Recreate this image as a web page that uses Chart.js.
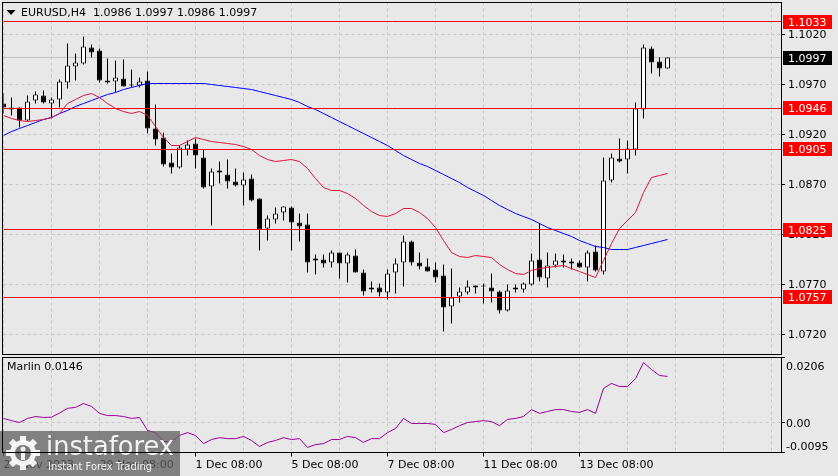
<!DOCTYPE html>
<html>
<head>
<meta charset="utf-8">
<script src="https://cdn.jsdelivr.net/npm/chart.js@4.4.1/dist/chart.umd.min.js"></script>
<style>
  html, body { margin: 0; padding: 0; background: #e8e8e8; }
  #wrap { position: relative; width: 838px; height: 476px; overflow: hidden; }
  #priceChart { position: absolute; left: 0; top: 0; }
  #marlinChart { position: absolute; left: 0; top: 356px; }
</style>
</head>
<body>
<div id="wrap">
  <canvas id="priceChart" width="838" height="356"></canvas>
  <canvas id="marlinChart" width="838" height="120"></canvas>
</div>
<script>
// EURUSD H4, one entry per candle (oldest first)
const symbol = 'EURUSD,H4';
const opens = [
  1.0951, 1.0947, 1.0947, 1.0934, 1.0954, 1.0959, 1.0951, 1.0955, 1.0972, 1.0988,
  1.0991, 1.1007, 1.1004, 1.0974, 1.0973, 1.0976, 1.0969, 1.0969, 1.0974, 1.0926,
  1.0917, 1.0892, 1.0887, 1.0905, 1.0911, 1.0897, 1.0868, 1.0882, 1.0880, 1.0873,
  1.0869, 1.0876, 1.0856, 1.0826, 1.0835, 1.0842, 1.0847, 1.0832, 1.0830, 1.0794,
  1.0795, 1.0792, 1.0802, 1.0791, 1.0799, 1.0782, 1.0765, 1.0767, 1.0762, 1.0782,
  1.0792, 1.0813, 1.0792, 1.0788, 1.0785, 1.0779, 1.0748, 1.0758, 1.0762, 1.0767,
  1.0768, 1.0767, 1.0763, 1.0744, 1.0765, 1.0765, 1.0770, 1.0795, 1.0776, 1.0789,
  1.0794, 1.0793, 1.0792, 1.0787, 1.0803, 1.0783, 1.0874, 1.0896, 1.0895, 1.0905,
  1.0945, 1.1006, 1.0993, 1.0986
];
const highs = [
  1.0961, 1.0957, 1.0947, 1.0959, 1.0963, 1.0964, 1.0957, 1.0975, 1.1011, 1.1001,
  1.1018, 1.1010, 1.1006, 1.0996, 1.0994, 1.0995, 1.0985, 1.0977, 1.0983, 1.0950,
  1.0922, 1.0901, 1.0909, 1.0914, 1.0916, 1.0905, 1.0886, 1.0893, 1.0895, 1.0886,
  1.0882, 1.0880, 1.0856, 1.0839, 1.0847, 1.0848, 1.0848, 1.0841, 1.0841, 1.0800,
  1.0800, 1.0804, 1.0802, 1.0802, 1.0805, 1.0785, 1.0773, 1.0771, 1.0785, 1.0796,
  1.0819, 1.0814, 1.0802, 1.0796, 1.0792, 1.0790, 1.0786, 1.0767, 1.0774, 1.0769,
  1.0771, 1.0781, 1.0764, 1.0770, 1.0770, 1.0772, 1.0801, 1.0831, 1.0802, 1.0801,
  1.0800, 1.0796, 1.0794, 1.0804, 1.0809, 1.0897, 1.0901, 1.0916, 1.0914, 1.0952,
  1.1010, 1.1008, 1.0997, 1.0997
];
const lows = [
  1.0941, 1.0939, 1.0927, 1.0933, 1.0951, 1.0951, 1.0936, 1.0947, 1.0966, 1.0974,
  1.0990, 1.0997, 1.0972, 1.0971, 1.0962, 1.0968, 1.0967, 1.0967, 1.0921, 1.0909,
  1.0888, 1.0881, 1.0886, 1.0899, 1.0886, 1.0866, 1.0829, 1.0871, 1.0866, 1.0868,
  1.0849, 1.0853, 1.0804, 1.0814, 1.0831, 1.0834, 1.0804, 1.0813, 1.0782, 1.0780,
  1.0787, 1.0787, 1.0776, 1.0772, 1.0782, 1.0759, 1.0762, 1.0758, 1.0755, 1.0761,
  1.0768, 1.0789, 1.0785, 1.0783, 1.0772, 1.0723, 1.0731, 1.0752, 1.0760, 1.0761,
  1.0751, 1.0752, 1.0741, 1.0743, 1.0762, 1.0762, 1.0769, 1.0773, 1.0767, 1.0787,
  1.0787, 1.0785, 1.0787, 1.0773, 1.0783, 1.0780, 1.0872, 1.0892, 1.0881, 1.0899,
  1.0936, 1.0981, 1.0978, 1.0986
];
const closes = [
  1.0947, 1.0945, 1.0934, 1.0953, 1.0960, 1.0952, 1.0955, 1.0973, 1.0989, 1.0992,
  1.1008, 1.1002, 1.0974, 1.0972, 1.0977, 1.0968, 1.0969, 1.0973, 1.0926, 1.0915,
  1.0890, 1.0887, 1.0907, 1.0910, 1.0899, 1.0867, 1.0883, 1.0884, 1.0873, 1.0869,
  1.0875, 1.0854, 1.0825, 1.0836, 1.0841, 1.0848, 1.0832, 1.0828, 1.0792, 1.0796,
  1.0791, 1.0802, 1.0791, 1.0800, 1.0782, 1.0763, 1.0767, 1.0762, 1.0781, 1.0791,
  1.0813, 1.0792, 1.0788, 1.0783, 1.0777, 1.0747, 1.0757, 1.0763, 1.0768, 1.0769,
  1.0768, 1.0763, 1.0744, 1.0764, 1.0767, 1.0771, 1.0794, 1.0777, 1.0789, 1.0794,
  1.0792, 1.0791, 1.0787, 1.0802, 1.0784, 1.0874, 1.0897, 1.0893, 1.0906, 1.0946,
  1.1007, 1.0992, 1.0986, 1.0997
];
// moving averages drawn on the price pane
const maFast = [
  1.0939, 1.0936, 1.0934, 1.0933, 1.0934, 1.0935, 1.0937, 1.0941, 1.0951, 1.0955,
  1.0959, 1.0961, 1.0957, 1.0951, 1.0946, 1.0943, 1.0941, 1.0943, 1.0939, 1.0928,
  1.0917, 1.0909, 1.0909, 1.0913, 1.0917, 1.0915, 1.0913, 1.0912, 1.0911, 1.0910,
  1.0908, 1.0905, 1.0899, 1.0895, 1.0893, 1.0894, 1.0895, 1.0893, 1.0886, 1.0876,
  1.0867, 1.0864, 1.0864, 1.0861, 1.0856, 1.0849, 1.0843, 1.0839, 1.0838, 1.0841,
  1.0846, 1.0846, 1.0842, 1.0836, 1.0827, 1.0814, 1.0802, 1.0798, 1.0797, 1.0799,
  1.0798, 1.0797, 1.0790, 1.0785, 1.0781, 1.0780, 1.0784, 1.0786, 1.0787, 1.0788,
  1.0789, 1.0786, 1.0783, 1.0780, 1.0777, 1.0794, 1.0811, 1.0826, 1.0834, 1.0842,
  1.0862, 1.0877, 1.0879, 1.0881
];
const maSlow = [
  1.0919, 1.0923, 1.0926, 1.0929, 1.0932, 1.0935, 1.0937, 1.0941, 1.0944, 1.0948,
  1.0951, 1.0954, 1.0957, 1.0960, 1.0962, 1.0965, 1.0967, 1.0969, 1.0971, 1.0971,
  1.0971, 1.0971, 1.0971, 1.0971, 1.0971, 1.0971, 1.0970, 1.0969, 1.0968, 1.0967,
  1.0966, 1.0965, 1.0963, 1.0961, 1.0959, 1.0957, 1.0955, 1.0952, 1.0948, 1.0945,
  1.0941, 1.0937, 1.0933, 1.0929, 1.0925, 1.0921, 1.0917, 1.0913, 1.0909, 1.0904,
  1.0899, 1.0895, 1.0891, 1.0888, 1.0884, 1.0880, 1.0876, 1.0872, 1.0867, 1.0863,
  1.0859, 1.0854, 1.0849, 1.0845, 1.0841, 1.0838, 1.0835, 1.0831, 1.0827, 1.0824,
  1.0821, 1.0818, 1.0814, 1.0811, 1.0808, 1.0807, 1.0805, 1.0805, 1.0805, 1.0807,
  1.0809, 1.0811, 1.0813, 1.0815
];
const marlin = [
  0.0013, 0.0006, 0.0000, 0.0013, 0.0019, 0.0016, 0.0017, 0.0030, 0.0045, 0.0048,
  0.0060, 0.0051, 0.0029, 0.0022, 0.0022, 0.0019, 0.0013, 0.0016, -0.0025, -0.0032,
  -0.0060, -0.0060, -0.0041, -0.0032, -0.0041, -0.0067, -0.0054, -0.0048, -0.0051, -0.0051,
  -0.0044, -0.0057, -0.0076, -0.0063, -0.0057, -0.0048, -0.0054, -0.0051, -0.0079, -0.0070,
  -0.0067, -0.0054, -0.0054, -0.0044, -0.0048, -0.0063, -0.0051, -0.0051, -0.0032, -0.0019,
  0.0013, -0.0003, -0.0003, -0.0003, -0.0006, -0.0032, -0.0022, -0.0010, 0.0000, 0.0003,
  0.0006, 0.0003, -0.0010, 0.0010, 0.0013, 0.0019, 0.0041, 0.0029, 0.0035, 0.0041,
  0.0041, 0.0035, 0.0032, 0.0041, 0.0029, 0.0108, 0.0124, 0.0114, 0.0114, 0.0139,
  0.0190, 0.0168, 0.0149, 0.0146
];
const levels = [1.1033, 1.0946, 1.0905, 1.0825, 1.0757];
const bid = 1.0997;
const priceTicks = [1.0720, 1.0770, 1.0820, 1.0870, 1.0920, 1.0970, 1.1020];
const marlinTicks = [-0.0095, 0, 0.0206];
const timeLabels = ['27 Nov 2023', '29 Nov 08:00', '1 Dec 08:00', '5 Dec 08:00',
                    '7 Dec 08:00', '11 Dec 08:00', '13 Dec 08:00'];

const GRID = '#c6c6c6';
const FONT = 'DejaVu Sans';
const BARS_PER_LABEL = 12;
const BARS_PER_GRID = 6;
const X_MIN = 0;
const X_MAX = 97.1875;   // empty space right of the last bar

Chart.defaults.font.family = FONT;
Chart.defaults.font.size = 11;
Chart.defaults.color = '#000';
Chart.defaults.animation = false;

const idx = opens.map((_, i) => i);
const gridTicks = [];
for (let v = 0; v <= X_MAX; v += BARS_PER_GRID) gridTicks.push(v);

const xGridTicks = s => { s.ticks = gridTicks.map(v => ({ value: v })); };
const labelAt = v => (v % BARS_PER_LABEL === 0 ? timeLabels[v / BARS_PER_LABEL] : undefined);
// keep the plot area where MT4 puts it, no room reserved for edge labels
const fixSize = (w, h) => s => {
  if (w !== null) s.width = w;
  if (h !== null) s.height = h;
  s.paddingTop = 0; s.paddingBottom = 0; s.paddingLeft = 0; s.paddingRight = 0;
};

const frame = {
  id: 'frame',
  afterDraw(chart) {
    const { ctx, chartArea: a } = chart;
    ctx.save();
    ctx.strokeStyle = '#000';
    ctx.lineWidth = 1;
    ctx.strokeRect(a.left - 1, a.top, a.right - a.left + 1.5, a.bottom - a.top);
    ctx.restore();
  }
};

const priceTags = {
  id: 'priceTags',
  afterDraw(chart) {
    const { ctx, chartArea: a, scales: { y } } = chart;
    ctx.save();
    ctx.font = `11px "${FONT}"`;
    ctx.textBaseline = 'middle';
    const tag = (v, bg) => {
      const py = Math.round(y.getPixelForValue(v));
      ctx.fillStyle = bg;
      ctx.fillRect(a.right + 2, py - 7, 49, 14);
      ctx.fillStyle = '#fff';
      ctx.fillText(v.toFixed(4), a.right + 7, py + 1);
    };
    levels.forEach(v => tag(v, '#ff0000'));
    tag(bid, '#000');

    // header: symbol and last bar OHLC
    const n = opens.length - 1;
    ctx.fillStyle = '#000';
    ctx.beginPath();
    ctx.moveTo(a.left + 3, 10);
    ctx.lineTo(a.left + 12, 10);
    ctx.lineTo(a.left + 7.5, 15);
    ctx.closePath();
    ctx.fill();
    ctx.fillText(`${symbol}  ${opens[n].toFixed(4)} ${highs[n].toFixed(4)} ${lows[n].toFixed(4)} ${closes[n].toFixed(4)}`,
      a.left + 17.5, 13);
    ctx.restore();
  }
};

new Chart(document.getElementById('priceChart'), {
  type: 'bar',
  data: {
    datasets: [
      ...levels.map(v => ({
        type: 'line',
        data: [{ x: X_MIN, y: v }, { x: X_MAX, y: v }],
        borderColor: '#ff0000', borderWidth: 1, pointRadius: 0, order: 0
      })),
      {
        type: 'line', label: 'MA fast',
        data: idx.map(i => ({ x: i, y: maFast[i] })),
        borderColor: '#dc143c', borderWidth: 1, pointRadius: 0, tension: 0, order: 1
      },
      {
        type: 'line', label: 'MA slow',
        data: idx.map(i => ({ x: i, y: maSlow[i] })),
        borderColor: '#0000ff', borderWidth: 1, pointRadius: 0, tension: 0, order: 1
      },
      {
        label: 'body',
        data: idx.map(i => ({ x: i, y: [opens[i], closes[i]] })),
        backgroundColor: idx.map(i => (closes[i] >= opens[i] ? '#ffffff' : '#000000')),
        borderColor: '#000', borderWidth: 1, borderSkipped: false,
        grouped: false, barThickness: 5, maxBarThickness: 5, minBarLength: 1,
        inflateAmount: 0, order: 2
      },
      {
        label: 'wick',
        data: idx.map(i => ({ x: i, y: [lows[i], highs[i]] })),
        backgroundColor: '#000', borderWidth: 0,
        grouped: false, barThickness: 1, maxBarThickness: 1,
        inflateAmount: 0, order: 3
      },
      {
        type: 'line', label: 'bid',
        data: [{ x: X_MIN, y: bid }, { x: X_MAX, y: bid }],
        borderColor: '#c0c0c0', borderWidth: 1, pointRadius: 0, order: 4
      }
    ]
  },
  options: {
    responsive: false,
    events: [],
    layout: { padding: { left: 3.5, top: 2.5, right: 0, bottom: 1.5 } },
    plugins: { legend: { display: false }, tooltip: { enabled: false } },
    scales: {
      x: {
        type: 'linear', min: X_MIN, max: X_MAX, offset: false,
        afterBuildTicks: xGridTicks,
        afterFit: fixSize(null, 0),
        ticks: { display: false },
        grid: { color: GRID, drawTicks: false, offset: false },
        border: { display: false, dash: [3, 3] }
      },
      y: {
        position: 'right', min: 1.0700, max: 1.1052,
        afterBuildTicks: s => { s.ticks = priceTicks.map(v => ({ value: v })); },
        afterFit: fixSize(57, null),
        ticks: { padding: 3, labelOffset: 1, callback: v => Number(v).toFixed(4) },
        grid: { color: GRID, tickColor: '#000', tickLength: 4, tickBorderDash: [] },
        border: { display: false, dash: [3, 3] }
      }
    }
  },
  plugins: [priceTags, frame]
});

const marlinText = {
  id: 'marlinText',
  afterDraw(chart) {
    const { ctx, chartArea: a, scales: { y } } = chart;
    ctx.save();
    ctx.font = `11px "${FONT}"`;
    ctx.textBaseline = 'middle';
    ctx.fillStyle = '#000';
    ctx.fillText(`Marlin ${marlin[marlin.length - 1].toFixed(4)}`, a.left + 3.5, a.top + 10);
    marlinTicks.forEach(v => {
      const py = Math.min(Math.max(y.getPixelForValue(v), a.top + 8.5), a.bottom - 7);
      ctx.fillText(v === 0 ? '0.00' : v.toFixed(4), a.right + 5, py + 1.5);
    });
    ctx.restore();
  }
};

const watermark = {
  id: 'watermark',
  afterDraw(chart) {
    const { ctx } = chart;
    const h = chart.height;
    ctx.save();
    ctx.fillStyle = 'rgba(95,95,95,0.75)';
    ctx.fillRect(0, h - 45, 180, 45);
    const cx = 23, cy = h - 23;
    ctx.fillStyle = 'rgba(255,255,255,0.9)';
    for (let t = 0; t < 8; t++) {
      ctx.save();
      ctx.translate(cx, cy);
      ctx.rotate(t * Math.PI / 4);
      ctx.fillRect(-3, -17, 6, 6);
      ctx.restore();
    }
    ctx.beginPath();
    ctx.arc(cx, cy, 13, 0, Math.PI * 2);
    ctx.fill();
    ctx.fillStyle = 'rgb(120,120,120)';
    ctx.beginPath();
    ctx.arc(cx, cy, 8, 0, Math.PI * 2);
    ctx.fill();
    ctx.fillStyle = 'rgba(255,255,255,0.9)';
    ctx.beginPath();
    ctx.arc(cx, cy - 4, 2.5, 0, Math.PI * 2);
    ctx.fill();
    ctx.fillRect(cx - 2, cy - 1, 4, 8);
    ctx.font = `27px "${FONT}"`;
    ctx.textBaseline = 'alphabetic';
    ctx.fillText('instaforex', 46, h - 21, 128);
    ctx.font = `10px "${FONT}"`;
    ctx.fillText('Instant Forex Trading', 48, h - 6, 104);
    ctx.restore();
  }
};

new Chart(document.getElementById('marlinChart'), {
  type: 'line',
  data: {
    datasets: [{
      label: 'Marlin',
      data: idx.map(i => ({ x: i, y: marlin[i] })),
      borderColor: '#990099', borderWidth: 1, pointRadius: 0, tension: 0
    }]
  },
  options: {
    responsive: false,
    events: [],
    layout: { padding: { left: 3.5, top: 1.5, right: 0, bottom: 0 } },
    plugins: { legend: { display: false }, tooltip: { enabled: false } },
    scales: {
      x: {
        type: 'linear', min: X_MIN, max: X_MAX, offset: false,
        afterBuildTicks: xGridTicks,
        afterFit: fixSize(null, 23.5),
        ticks: {
          autoSkip: false, maxRotation: 0, align: 'start', padding: 2,
          callback: v => labelAt(v) || ''
        },
        grid: {
          color: GRID, tickLength: 4, tickBorderDash: [],
          tickColor: c => (c.tick && labelAt(c.tick.value) ? '#000' : 'rgba(0,0,0,0)')
        },
        border: { display: false, dash: [3, 3] }
      },
      y: {
        position: 'right', min: -0.0095, max: 0.0206,
        afterBuildTicks: s => { s.ticks = marlinTicks.map(v => ({ value: v })); },
        afterFit: fixSize(57, null),
        ticks: { display: false },
        grid: {
          color: c => (c.tick && c.tick.value === 0 ? GRID : 'rgba(0,0,0,0)'),
          tickColor: '#000', tickLength: 4, tickBorderDash: []
        },
        border: { display: false, dash: [3, 3] }
      }
    }
  },
  plugins: [marlinText, watermark, frame]
});
</script>
</body>
</html>
